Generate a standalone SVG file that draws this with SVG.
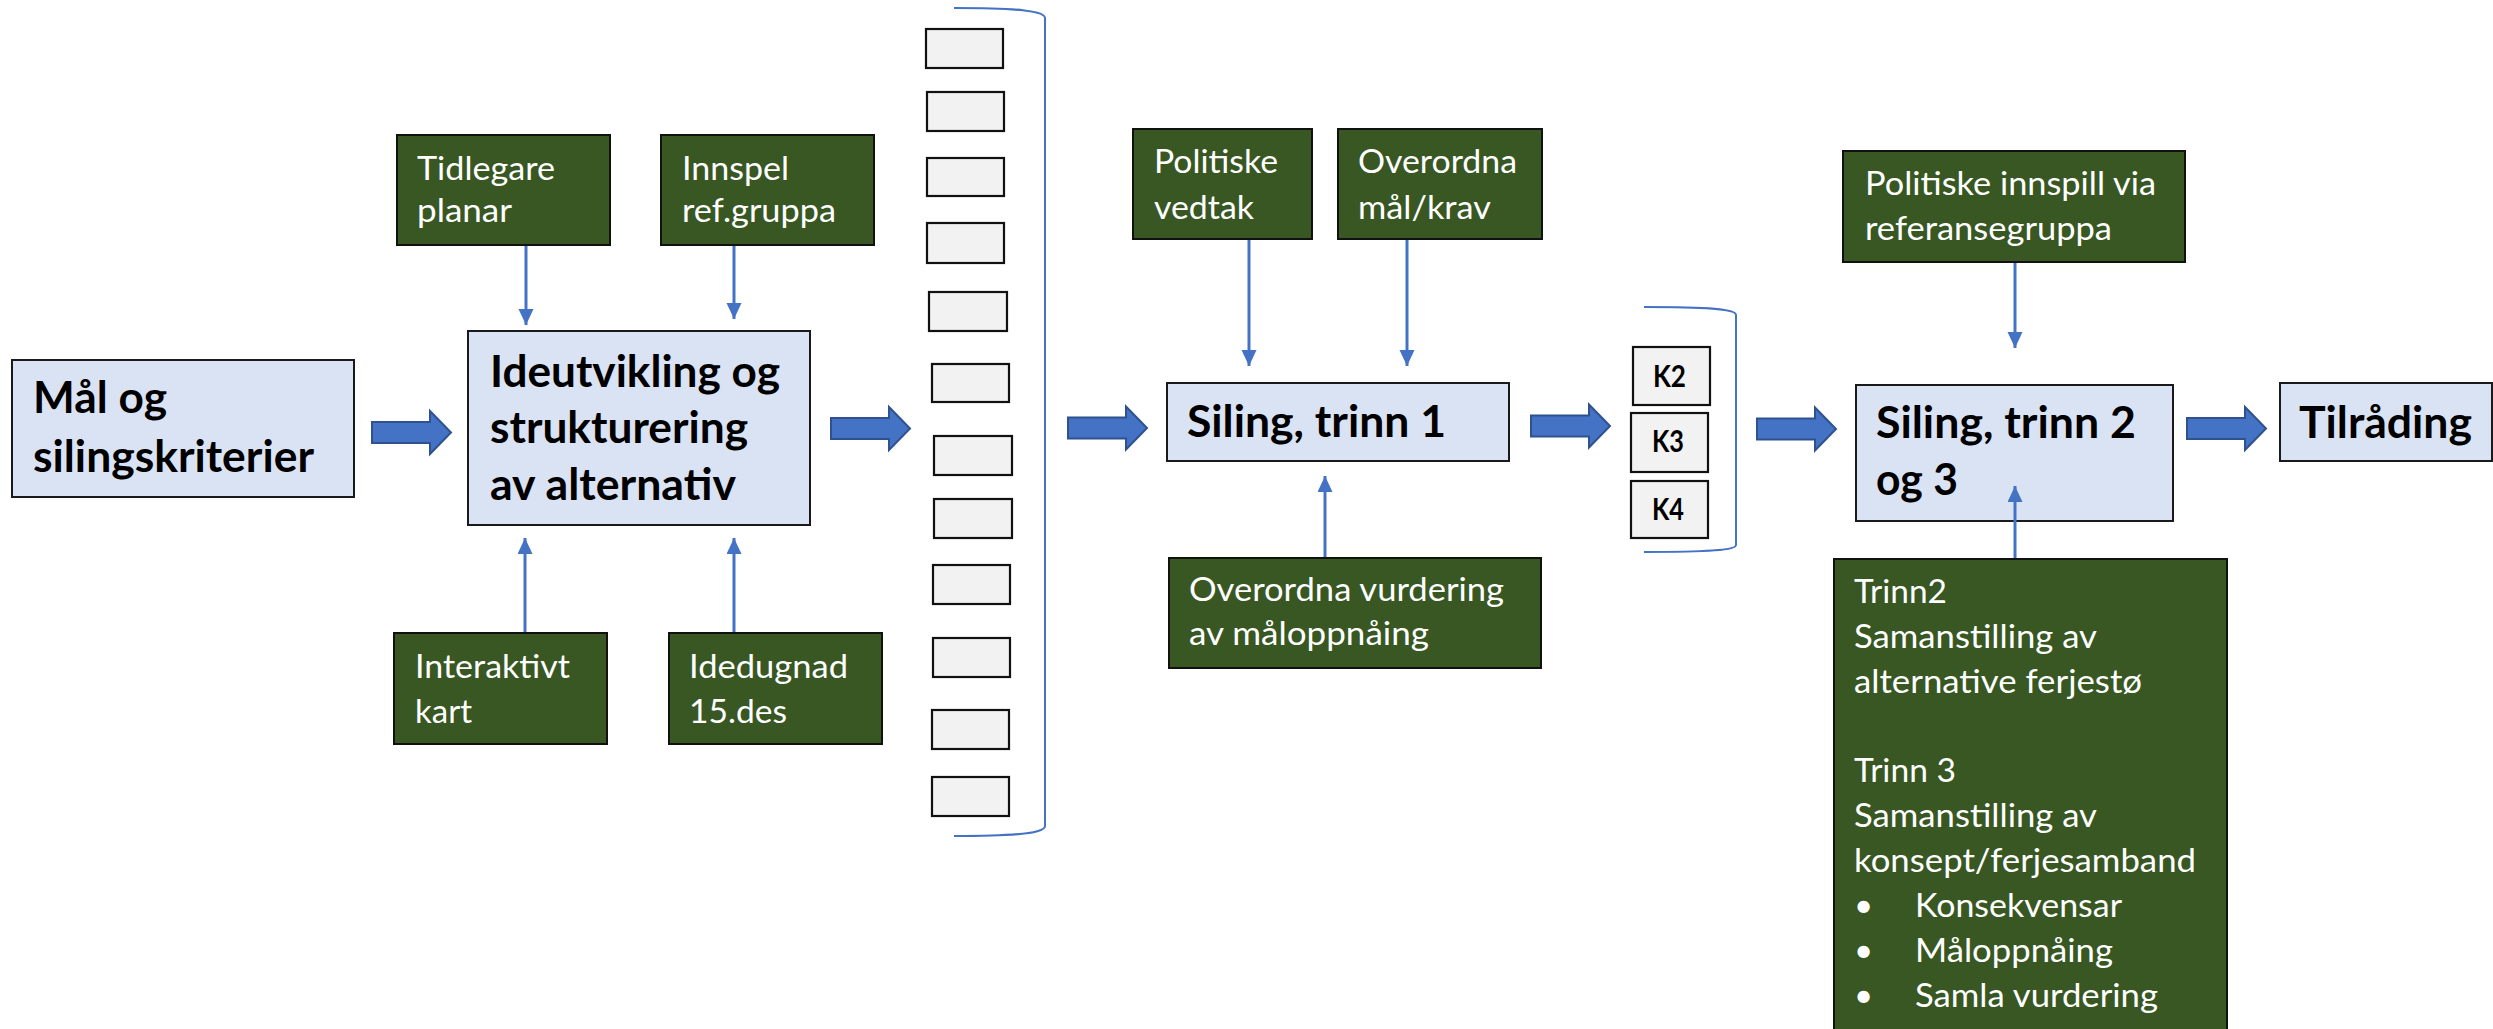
<svg xmlns="http://www.w3.org/2000/svg" xmlns:xlink="http://www.w3.org/1999/xlink" width="2493" height="1029" viewBox="0 0 2493 1029">
<style>
.blue{fill:#DAE3F3;stroke:#1a1a1a;stroke-width:2}
.green{fill:#385723;stroke:#111;stroke-width:2}
.gray{fill:#F2F2F2;stroke:#111;stroke-width:2.2}
.bt{font-family:Lato,"Liberation Sans",sans-serif;font-weight:bold;font-size:44px;fill:#000}
.wt{font-family:Lato,"Liberation Sans",sans-serif;font-size:33px;fill:#fff}
.kt{font-family:Lato,"Liberation Sans",sans-serif;font-weight:bold;font-size:30px;fill:#000}
.thin{stroke:#4472C4;stroke-width:3;fill:none;marker-end:url(#ah)}
.brk{stroke:#4472C4;stroke-width:2;fill:none}
.blk{fill:#4472C4;stroke:#2F528F;stroke-width:2}
</style>
<defs>
<marker id="ah" markerUnits="userSpaceOnUse" markerWidth="17" markerHeight="16" refX="16" refY="7.5" orient="auto" viewBox="0 0 17 16">
<path d="M0,0 L16,7.5 L0,15 Z" fill="#4472C4"/>
</marker>
<path id="barrow" d="M0,-10.5 H58 V-21.5 L79,0 L58,21.5 V10.5 H0 Z"/>
</defs>
<rect width="2493" height="1029" fill="#fff"/>

<g id="n-mal">
<rect class="blue" x="12" y="360" width="342" height="137"/>
<text class="bt" x="33" y="413" textLength="134" lengthAdjust="spacingAndGlyphs">Mål og</text>
<text class="bt" x="33" y="472" textLength="281" lengthAdjust="spacingAndGlyphs">silingskriterier</text>
</g>

<g id="n-ide">
<rect class="blue" x="468" y="331" width="342" height="194"/>
<text class="bt" x="490" y="387" textLength="290" lengthAdjust="spacingAndGlyphs">Ideutvikling og</text>
<text class="bt" x="490" y="443" textLength="258" lengthAdjust="spacingAndGlyphs">strukturering</text>
<text class="bt" x="490" y="500" textLength="246" lengthAdjust="spacingAndGlyphs">av alternativ</text>
</g>

<g id="n-tidlegare">
<rect class="green" x="397" y="135" width="213" height="110"/>
<text class="wt" x="417" y="180" textLength="138" lengthAdjust="spacingAndGlyphs">Tidlegare</text>
<text class="wt" x="417" y="222" textLength="95" lengthAdjust="spacingAndGlyphs">planar</text>
</g>

<g id="n-innspel">
<rect class="green" x="661" y="135" width="213" height="110"/>
<text class="wt" x="682" y="180" textLength="107" lengthAdjust="spacingAndGlyphs">Innspel</text>
<text class="wt" x="682" y="222" textLength="154" lengthAdjust="spacingAndGlyphs">ref.gruppa</text>
</g>

<g id="n-interaktivt">
<rect class="green" x="394" y="633" width="213" height="111"/>
<text class="wt" x="415" y="678" textLength="155" lengthAdjust="spacingAndGlyphs">Interaktivt</text>
<text class="wt" x="415" y="723" textLength="57" lengthAdjust="spacingAndGlyphs">kart</text>
</g>

<g id="n-idedugnad">
<rect class="green" x="669" y="633" width="213" height="111"/>
<text class="wt" x="689" y="678" textLength="159" lengthAdjust="spacingAndGlyphs">Idedugnad</text>
<text class="wt" x="689" y="723" textLength="98" lengthAdjust="spacingAndGlyphs">15.des</text>
</g>

<g id="n-list">
<rect class="gray" x="926" y="29" width="77" height="39"/>
<rect class="gray" x="927" y="92" width="77" height="39"/>
<rect class="gray" x="927" y="158" width="77" height="38"/>
<rect class="gray" x="927" y="223" width="77" height="40"/>
<rect class="gray" x="929" y="292" width="78" height="39"/>
<rect class="gray" x="932" y="364" width="77" height="38"/>
<rect class="gray" x="934" y="436" width="78" height="39"/>
<rect class="gray" x="934" y="499" width="78" height="39"/>
<rect class="gray" x="933" y="565" width="77" height="39"/>
<rect class="gray" x="933" y="638" width="77" height="39"/>
<rect class="gray" x="932" y="710" width="77" height="39"/>
<rect class="gray" x="932" y="777" width="77" height="39"/>
</g>

<g id="n-politiske">
<rect class="green" x="1133" y="129" width="179" height="110"/>
<text class="wt" x="1154" y="173" textLength="124" lengthAdjust="spacingAndGlyphs">Politiske</text>
<text class="wt" x="1154" y="219" textLength="100" lengthAdjust="spacingAndGlyphs">vedtak</text>
</g>

<g id="n-overordna">
<rect class="green" x="1338" y="129" width="204" height="110"/>
<text class="wt" x="1358" y="173" textLength="159" lengthAdjust="spacingAndGlyphs">Overordna</text>
<text class="wt" x="1358" y="219" textLength="133" lengthAdjust="spacingAndGlyphs">mål/krav</text>
</g>

<g id="n-siling1">
<rect class="blue" x="1167" y="383" width="342" height="78"/>
<text class="bt" x="1187" y="437" textLength="259" lengthAdjust="spacingAndGlyphs">Siling, trinn 1</text>
</g>

<g id="n-vurdering">
<rect class="green" x="1169" y="558" width="372" height="110"/>
<text class="wt" x="1189" y="601" textLength="315" lengthAdjust="spacingAndGlyphs">Overordna vurdering</text>
<text class="wt" x="1189" y="645" textLength="240" lengthAdjust="spacingAndGlyphs">av måloppnåing</text>
</g>

<g id="n-k2">
<rect class="gray" x="1633" y="347" width="77" height="58"/>
<text class="kt" x="1653" y="387" textLength="33" lengthAdjust="spacingAndGlyphs">K2</text>
</g>
<g id="n-k3">
<rect class="gray" x="1631" y="413" width="77" height="59"/>
<text class="kt" x="1652" y="452" textLength="32" lengthAdjust="spacingAndGlyphs">K3</text>
</g>
<g id="n-k4">
<rect class="gray" x="1631" y="481" width="77" height="57"/>
<text class="kt" x="1652" y="520" textLength="32" lengthAdjust="spacingAndGlyphs">K4</text>
</g>

<g id="n-innspill">
<rect class="green" x="1843" y="151" width="342" height="111"/>
<text class="wt" x="1865" y="195" textLength="291" lengthAdjust="spacingAndGlyphs">Politiske innspill via</text>
<text class="wt" x="1865" y="240" textLength="247" lengthAdjust="spacingAndGlyphs">referansegruppa</text>
</g>

<g id="n-siling23">
<rect class="blue" x="1856" y="385" width="317" height="136"/>
<text class="bt" x="1876" y="438" textLength="260" lengthAdjust="spacingAndGlyphs">Siling, trinn 2</text>
<text class="bt" x="1876" y="495" textLength="82" lengthAdjust="spacingAndGlyphs">og 3</text>
</g>

<g id="n-trinn">
<rect class="green" x="1834" y="559" width="393" height="480"/>
<text class="wt" x="1854" y="603" textLength="93" lengthAdjust="spacingAndGlyphs">Trinn2</text>
<text class="wt" x="1854" y="648" textLength="243" lengthAdjust="spacingAndGlyphs">Samanstilling av</text>
<text class="wt" x="1854" y="693" textLength="288" lengthAdjust="spacingAndGlyphs">alternative ferjestø</text>
<text class="wt" x="1854" y="782" textLength="102" lengthAdjust="spacingAndGlyphs">Trinn 3</text>
<text class="wt" x="1854" y="827" textLength="243" lengthAdjust="spacingAndGlyphs">Samanstilling av</text>
<text class="wt" x="1854" y="872" textLength="342" lengthAdjust="spacingAndGlyphs">konsept/ferjesamband</text>
<text class="wt" x="1854" y="917">•</text>
<text class="wt" x="1915" y="917" textLength="207" lengthAdjust="spacingAndGlyphs">Konsekvensar</text>
<text class="wt" x="1854" y="962">•</text>
<text class="wt" x="1915" y="962" textLength="198" lengthAdjust="spacingAndGlyphs">Måloppnåing</text>
<text class="wt" x="1854" y="1007">•</text>
<text class="wt" x="1915" y="1007" textLength="243" lengthAdjust="spacingAndGlyphs">Samla vurdering</text>
</g>

<g id="n-tilrading">
<rect class="blue" x="2280" y="383" width="212" height="78"/>
<text class="bt" x="2299" y="438" textLength="173" lengthAdjust="spacingAndGlyphs">Tilråding</text>
</g>

<g id="connectors">
<use xlink:href="#barrow" class="blk" transform="translate(372,432.5)"/>
<use xlink:href="#barrow" class="blk" transform="translate(831,428.5)"/>
<use xlink:href="#barrow" class="blk" transform="translate(1068,428)"/>
<use xlink:href="#barrow" class="blk" transform="translate(1531,426)"/>
<use xlink:href="#barrow" class="blk" transform="translate(1757,429)"/>
<use xlink:href="#barrow" class="blk" transform="translate(2187,428.5)"/>
<line class="thin" x1="526" y1="246" x2="526" y2="325"/>
<line class="thin" x1="734" y1="246" x2="734" y2="319"/>
<line class="thin" x1="525" y1="632" x2="525" y2="538"/>
<line class="thin" x1="734" y1="632" x2="734" y2="538"/>
<line class="thin" x1="1249" y1="240" x2="1249" y2="366"/>
<line class="thin" x1="1407" y1="240" x2="1407" y2="366"/>
<line class="thin" x1="1325" y1="557" x2="1325" y2="476"/>
<line class="thin" x1="2015" y1="263" x2="2015" y2="348"/>
<line class="thin" x1="2015" y1="558" x2="2015" y2="486"/>
<path class="brk" d="M954,8 C1020,8 1045,11 1045,18 L1045,826 C1045,833 1020,836 954,836"/>
<path class="brk" d="M1644,307 C1710,307 1736,309 1736,315 L1736,545 C1736,550 1710,552 1644,552"/>
</g>
</svg>
